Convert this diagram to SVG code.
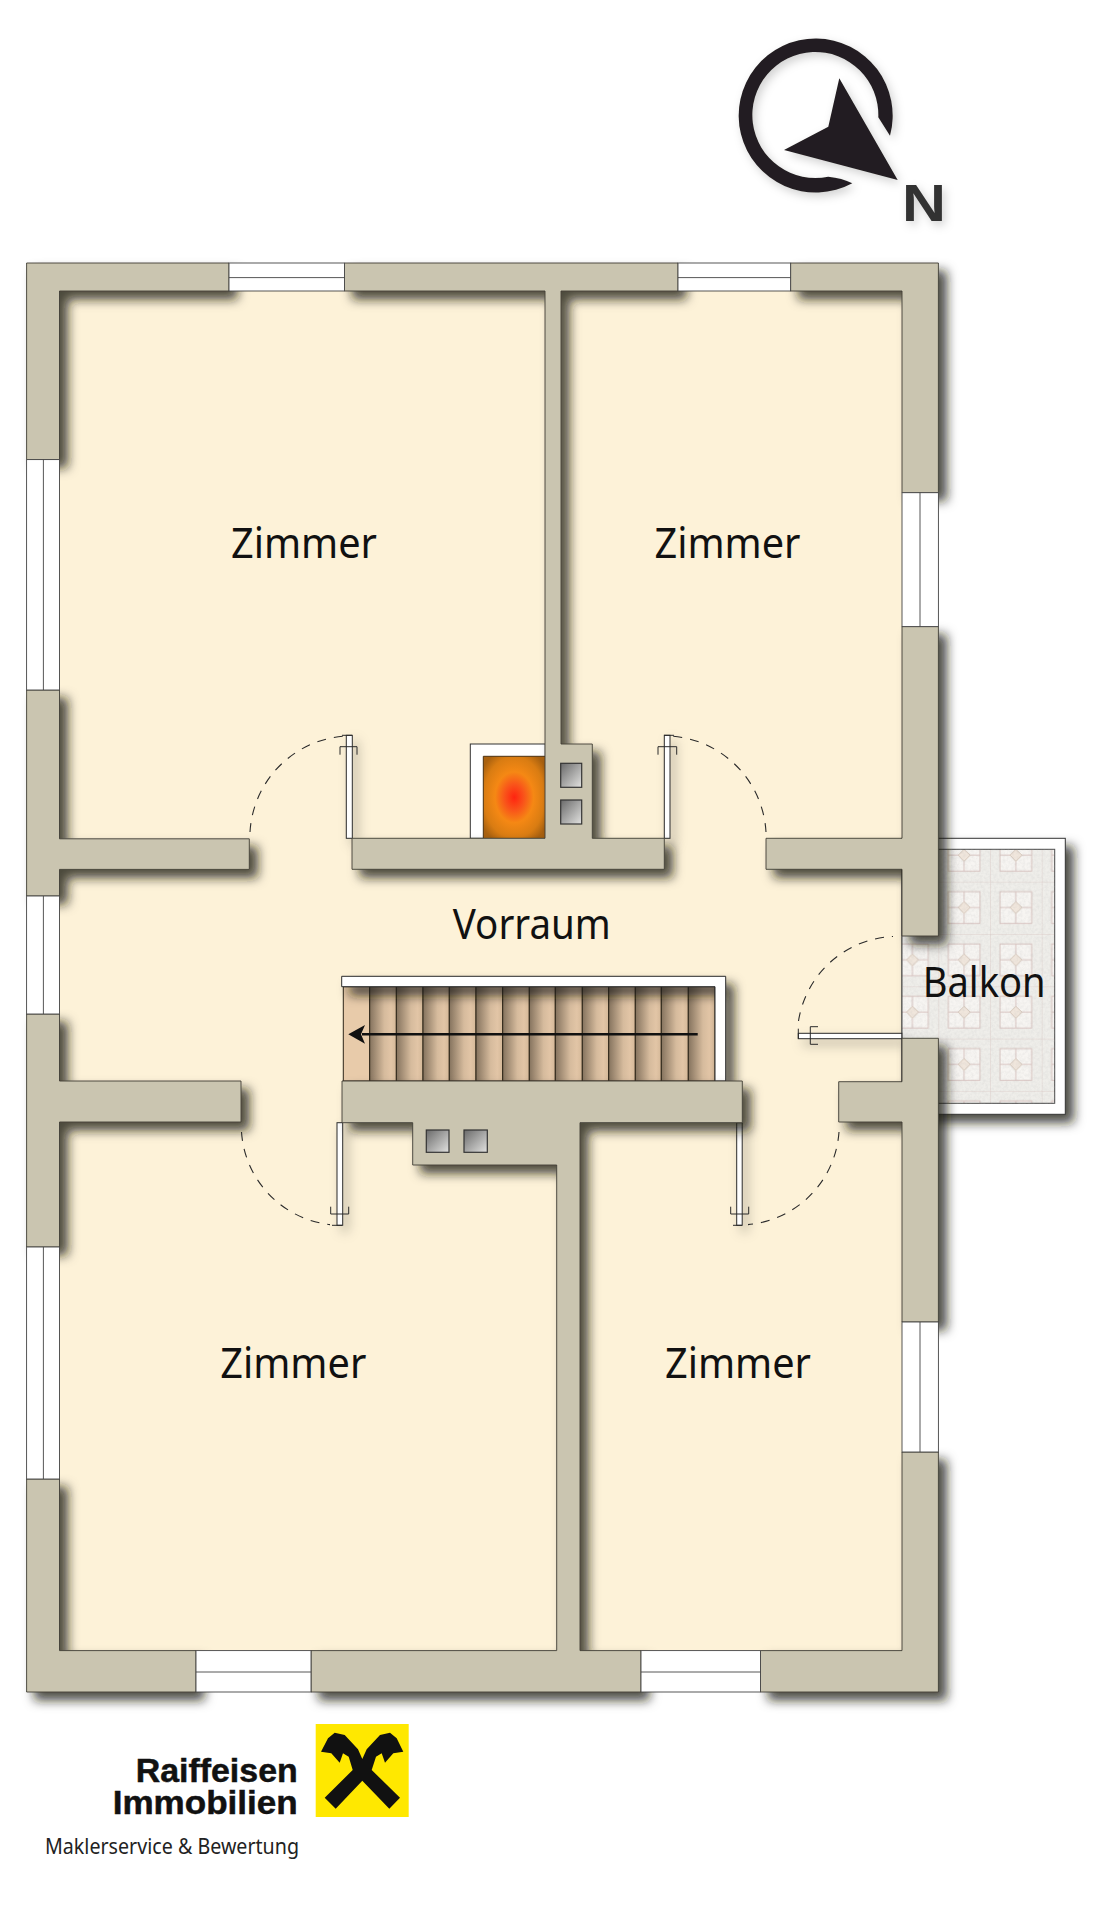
<svg xmlns="http://www.w3.org/2000/svg" width="1098" height="1920" viewBox="0 0 1098 1920">
<style>
.wall{fill:#cac5b0;stroke:#3f3d34;stroke-width:.9;stroke-linejoin:miter}
.win{fill:#fff;stroke:#444;stroke-width:.9}
.winl{stroke:#444;stroke-width:.9;fill:none}
.leaf{fill:#fff;stroke:#2a2a2a;stroke-width:1}
.mark{fill:none;stroke:#2a2a2a;stroke-width:1}
.swing{fill:none;stroke:#2a2a2a;stroke-width:1.1;stroke-dasharray:9 8}
.flue{fill:url(#flueG);stroke:#333;stroke-width:1.2}
.tread{fill:url(#treadG);stroke:#2e2618;stroke-width:1}
.room{font-family:"Noto Sans","Open Sans",sans-serif;font-size:41px;fill:#111}
.brand{font-family:"Liberation Sans",sans-serif;font-weight:700;font-size:34px;fill:#111;stroke:#111;stroke-width:.5}
</style>
<defs>
<filter id="sh" x="-10%" y="-10%" width="125%" height="125%"><feDropShadow dx="8" dy="8" stdDeviation="5.5" flood-color="#1c1a10" flood-opacity=".78"/></filter>
<filter id="shs" x="-30%" y="-30%" width="170%" height="170%"><feDropShadow dx="5" dy="6" stdDeviation="6" flood-color="#000" flood-opacity=".26"/></filter>
<filter id="shc" x="-30%" y="-30%" width="170%" height="170%"><feDropShadow dx="3" dy="4" stdDeviation="5" flood-color="#000" flood-opacity=".18"/></filter>
<filter id="noise" x="0" y="0" width="100%" height="100%"><feTurbulence type="fractalNoise" baseFrequency=".35" numOctaves="3" seed="4"/><feColorMatrix values="0 0 0 0 .5 0 0 0 0 .5 0 0 0 0 .5 .9 0 0 0 -.3"/></filter>
<linearGradient id="flueG" x1="0" y1="0" x2="1" y2="1"><stop offset="0" stop-color="#6a6a6a"/><stop offset="1" stop-color="#e2e2e0"/></linearGradient>
<linearGradient id="treadG" x1="0" y1="0" x2="1" y2="0"><stop offset="0" stop-color="#85735e"/><stop offset=".55" stop-color="#d6bb9d"/><stop offset=".8" stop-color="#e2c5a6"/><stop offset="1" stop-color="#d4b898"/></linearGradient>
<radialGradient id="fire" cx=".5" cy=".5" r=".62"><stop offset="0" stop-color="#ff2410"/><stop offset=".25" stop-color="#f9531a"/><stop offset=".5" stop-color="#f58814"/><stop offset=".8" stop-color="#d97c12"/><stop offset="1" stop-color="#a9610f"/></radialGradient>
<pattern id="tile" patternUnits="userSpaceOnUse" x="938.3" y="881.7" width="51.7" height="52.3">
<rect width="51.7" height="52.3" fill="#efeeea"/>
<rect x="10" y="10" width="31.7" height="31.7" fill="#f7f5f2" stroke="#d5bfbb" stroke-width=".9"/>
<path d="M25.8 10V20M25.8 32V41.7M10 25.8H20M32 25.8H41.7" stroke="#d5bfbb" stroke-width=".9" fill="none"/>
<path d="M25.8 20L32 25.8 25.8 32 20 25.8Z" fill="#f0e6dc" stroke="#cfc0b3" stroke-width=".9"/>
<path d="M0 0H51.7M0 0V52.3" stroke="#dcc9c6" stroke-width=".8" fill="none"/>
</pattern>
</defs>
<rect width="1098" height="1920" fill="#fff"/>

<g id="compass" filter="url(#shc)">
<path fill="#231f20" d="M852.3 183.3A77 77 0 1 1 890 135.7L878.3 117.3A63 63 0 1 0 828.3 176.7Q842 178 852.3 183.3Z"/>
<polygon fill="#231f20" points="839.3,78.3 897.7,180 784,150 828.3,126.7"/>
<text x="902" y="220.7" font-family="Liberation Sans,sans-serif" font-weight="700" font-size="51" fill="#333" textLength="44" lengthAdjust="spacingAndGlyphs">N</text>
</g>

<g id="floor"><rect x="59" y="291" width="843.5" height="1360" fill="#fdf2d8"/></g>

<g id="balcony">
<rect x="902" y="838.3" width="163.3" height="276" fill="#fff" stroke="#333" stroke-width="1" filter="url(#sh)"/>
<rect x="902" y="849.3" width="152.7" height="254" fill="url(#tile)" stroke="#444" stroke-width="1"/>
<rect x="902" y="849.3" width="152.7" height="254" filter="url(#noise)" opacity=".4"/>
</g>

<g id="stairs">
<rect x="343.3" y="986.7" width="26.4" height="94.3" fill="#e8cbaa" stroke="#2e2618"/>
<rect class="tread" x="369.7" y="986.7" width="26.7" height="94.3"/>
<rect class="tread" x="396.3" y="986.7" width="26.7" height="94.3"/>
<rect class="tread" x="423" y="986.7" width="26.3" height="94.3"/>
<rect class="tread" x="449.3" y="986.7" width="26.7" height="94.3"/>
<rect class="tread" x="476" y="986.7" width="26.7" height="94.3"/>
<rect class="tread" x="502.7" y="986.7" width="26.6" height="94.3"/>
<rect class="tread" x="529.3" y="986.7" width="26" height="94.3"/>
<rect class="tread" x="555.3" y="986.7" width="27" height="94.3"/>
<rect class="tread" x="582.3" y="986.7" width="26.4" height="94.3"/>
<rect class="tread" x="608.7" y="986.7" width="26.6" height="94.3"/>
<rect class="tread" x="635.3" y="986.7" width="26" height="94.3"/>
<rect class="tread" x="661.3" y="986.7" width="27" height="94.3"/>
<rect class="tread" x="688.3" y="986.7" width="26.7" height="94.3"/>
<path d="M341.7 976.3H725.7V1081H715V986.7H341.7Z" class="leaf" filter="url(#sh)"/>
<path d="M697.7 1034.3H362" stroke="#111" stroke-width="2.4" fill="none"/>
<polygon fill="#111" points="348.3,1034.3 365,1025 361,1034.3 365,1043.7"/>
</g>

<g id="stove">
<rect x="470.3" y="744" width="75" height="94.3" fill="#fff" stroke="#333" stroke-width="1"/>
<rect x="483.3" y="756.3" width="62" height="82" fill="url(#fire)"/>
<path d="M483.3 838.3V756.3H545.3" fill="none" stroke="#4a3010" stroke-width="1"/>
</g>

<g id="door-leaves" filter="url(#shs)">
<rect class="leaf" x="346.3" y="735.3" width="6" height="103"/>
<rect class="leaf" x="664.3" y="735.3" width="5.7" height="103"/>
<rect class="leaf" x="337" y="1122.7" width="5.7" height="102.6"/>
<rect class="leaf" x="736.7" y="1122.7" width="5.5" height="102.6"/>
<rect class="leaf" x="798.3" y="1033.3" width="103.5" height="5.4"/>
</g>

<g id="walls" filter="url(#sh)">
<path class="wall" d="M229 263H26.6V459.6H59.5V291H229Z"/>
<path class="wall" d="M344.5 263H678V291H561V744H592.3V838.3H664.3V869.3H352V838.3H545V291H344.5Z"/>
<path class="wall" d="M790.6 263H938.4V492.7H902V291H790.6Z"/>
<path class="wall" d="M902 626.6H938.4V936H902V869.3H766V838.3H902Z"/>
<path class="wall" d="M26.6 690H59.5V838.8H249.3V869.4H59.5V896H26.6Z"/>
<path class="wall" d="M26.6 1014H59.5V1081H241V1122H59.5V1247H26.6Z"/>
<path class="wall" d="M26.6 1479H59.5V1650.6H196V1692H26.6Z"/>
<path class="wall" d="M311 1650.6H556.7V1165H412.7V1122.7H342V1081H742.3V1122.7H580V1650.6H641V1692H311Z"/>
<path class="wall" d="M760.5 1692V1650.6H902V1452H938.4V1692Z"/>
<path class="wall" d="M902 1038.3H938.4V1322H902V1122H838.7V1081.7H902Z"/>
</g>

<g id="flues">
<rect class="flue" x="560.7" y="763.3" width="21" height="24"/>
<rect class="flue" x="560.7" y="800" width="21" height="24"/>
<rect class="flue" x="426.3" y="1130" width="22.7" height="22.3"/>
<rect class="flue" x="464" y="1130" width="23.3" height="22.3"/>
</g>

<g id="windows">
<rect class="win" x="229" y="263" width="115.5" height="28"/><path class="winl" d="M229 277.6H344.5"/>
<rect class="win" x="678" y="263" width="112.6" height="28"/><path class="winl" d="M678 277.6H790.6"/>
<rect class="win" x="26.6" y="459.6" width="32.9" height="230.4"/><path class="winl" d="M43.4 459.6V690"/>
<rect class="win" x="26.6" y="896" width="32.9" height="118"/><path class="winl" d="M43.4 896V1014"/>
<rect class="win" x="26.6" y="1247" width="32.9" height="232"/><path class="winl" d="M43.4 1247V1479"/>
<rect class="win" x="902" y="492.7" width="36.4" height="133.9"/><path class="winl" d="M920 492.7V626.6"/>
<rect class="win" x="902" y="1322" width="36.4" height="130"/><path class="winl" d="M920 1322V1452"/>
<rect class="win" x="196" y="1650.6" width="115" height="41.4"/><path class="winl" d="M196 1672H311"/>
<rect class="win" x="641" y="1650.6" width="119.5" height="41.4"/><path class="winl" d="M641 1672H760.5"/>
</g>

<g id="door-swings">
<path class="swing" d="M250 832A102 102 0 0 1 346 736"/>
<path class="swing" d="M766 832A102 102 0 0 0 670 736"/>
<path class="swing" d="M241.5 1132A100 100 0 0 0 330 1224.6"/>
<path class="swing" d="M839 1132A100 100 0 0 1 748 1224.6"/>
<path class="swing" d="M798.5 1021A100 100 0 0 1 893 936.5"/>
<path class="mark" d="M342 735.3H352M340 754.7V746.7H357V754.7"/>
<path class="mark" d="M664 735.3H674M658 754.7V746.7H676.7V754.7"/>
<path class="mark" d="M332 1225.3H342M330.7 1206.7V1214H348.7V1206.7"/>
<path class="mark" d="M733 1225.3H742M730.7 1206.7V1214H748.7V1206.7"/>
<path class="mark" d="M798.3 1028.7V1038.7M818 1026.7H810.3V1044.3H818"/>
</g>

<g id="labels">
<text class="room" x="304" y="558.4" text-anchor="middle" textLength="146" lengthAdjust="spacingAndGlyphs">Zimmer</text>
<text class="room" x="727.5" y="558.4" text-anchor="middle" textLength="146" lengthAdjust="spacingAndGlyphs">Zimmer</text>
<text class="room" x="293.3" y="1378" text-anchor="middle" textLength="146" lengthAdjust="spacingAndGlyphs">Zimmer</text>
<text class="room" x="738" y="1378" text-anchor="middle" textLength="146" lengthAdjust="spacingAndGlyphs">Zimmer</text>
<text class="room" x="531.8" y="939.3" text-anchor="middle" textLength="158" lengthAdjust="spacingAndGlyphs">Vorraum</text>
<text class="room" x="984.2" y="997.3" text-anchor="middle" textLength="123" lengthAdjust="spacingAndGlyphs">Balkon</text>
</g>

<g id="logo">
<rect x="315.7" y="1724" width="93" height="93" fill="#ffe800"/>
<path fill="#111" d="M362.3 1759L366.7 1749.3 380 1735 390 1732.7 396.7 1738.3 403.3 1751.7 393.3 1753.3 385 1762.7 381.7 1753.3 376 1756.7 371.7 1770 400 1797.7 389.3 1808.7 362.3 1780.7 335.7 1808.7 324.7 1797.7 352.7 1770 348.7 1756.7 343 1753.3 339.7 1762.7 331.3 1753.3 321 1751.7 328 1738.3 334.7 1732.7 344.7 1735 358 1749.3Z"/>
<text class="brand" x="297.7" y="1782.3" text-anchor="end" textLength="162" lengthAdjust="spacingAndGlyphs">Raiffeisen</text>
<text class="brand" x="297.7" y="1814" text-anchor="end" textLength="185" lengthAdjust="spacingAndGlyphs">Immobilien</text>
<text x="299" y="1853.5" text-anchor="end" textLength="254" lengthAdjust="spacingAndGlyphs" font-family="Noto Sans,Open Sans,sans-serif" font-size="21" fill="#222">Maklerservice &amp; Bewertung</text>
</g>
</svg>
